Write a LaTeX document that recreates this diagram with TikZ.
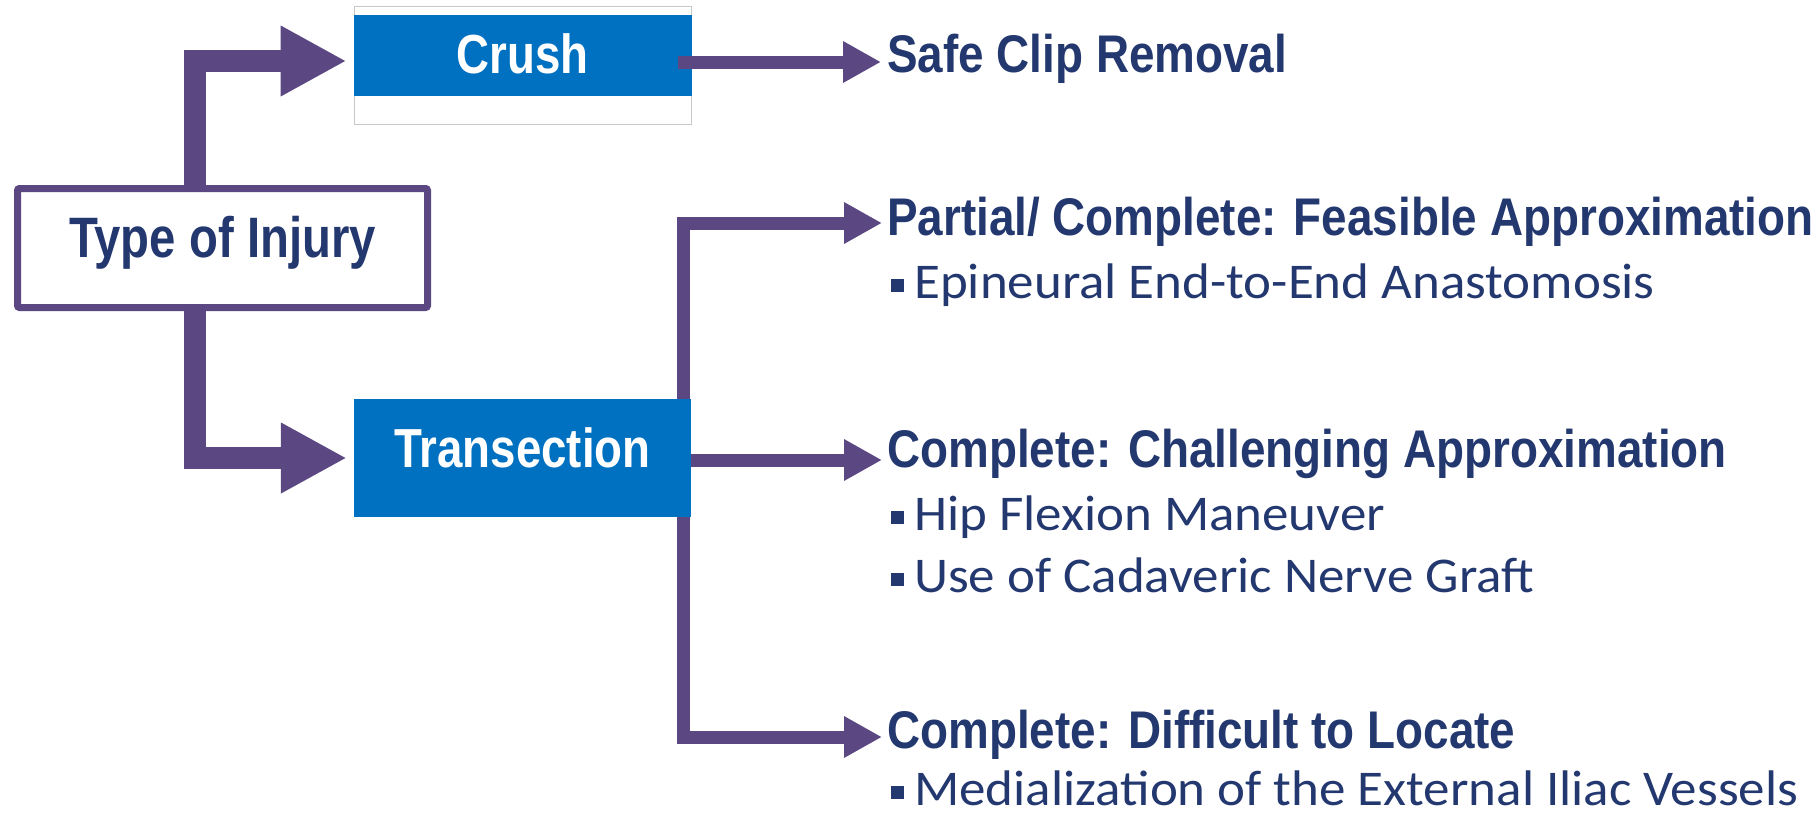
\documentclass[tikz,border=0pt]{standalone}
\usepackage{fontspec}
\setmainfont{Carlito}
\newfontfamily\headfont[FakeStretch=0.865]{Liberation Sans}
\newfontfamily\boxfont[FakeStretch=0.83]{Liberation Sans}
\newfontfamily\detailfont[FakeStretch=1.06]{Carlito}
\usetikzlibrary{arrows.meta}
\definecolor{navy}{RGB}{36,56,112}
\definecolor{arrowpurple}{RGB}{91,71,130}
\definecolor{boxblue}{RGB}{0,112,192}
\definecolor{framegray}{RGB}{200,200,200}
\newcommand{\bulletsq}{\textcolor{navy}{\rule[6pt]{13pt}{13pt}}\hspace{10pt}}
\tikzset{
  thickarrow/.style={arrowpurple, line width=22pt, -{Triangle[length=66pt,width=66pt]}},
  thinarrow/.style={arrowpurple, line width=13pt, -{Triangle[length=38pt,width=39pt]}},
  heading/.style={anchor=base west, inner sep=0pt, text=navy,
    font=\headfont\bfseries\fontsize{53}{60}\selectfont},
  detail/.style={anchor=base west, inner sep=0pt, text=navy,
    font=\detailfont\fontsize{50}{58}\selectfont},
  boxlabel/.style={anchor=base, inner sep=0pt, text=white,
    font=\boxfont\bfseries\fontsize{55}{62}\selectfont}
}

\begin{document}
\begin{tikzpicture}[x=1pt,y=-1pt]
  \useasboundingbox (0,0) rectangle (1816,817);
  % boxes
  \node[draw=arrowpurple, line width=7pt, rounded corners=2pt, fill=white,
    minimum width=410pt, minimum height=119pt, inner sep=0pt] (injury) at (222.5,248) {};
  \node[draw=framegray, line width=1pt, fill=white,
    minimum width=337pt, minimum height=118pt, inner sep=0pt] (crush) at (522.5,65) {};
  \fill[boxblue] ([yshift=-9pt]crush.north west) rectangle ([yshift=29pt]crush.south east);
  \node[fill=boxblue, minimum width=337pt, minimum height=118pt, inner sep=0pt]
    (transection) at (522.5,458) {};
  \node[boxlabel] (crushlabel) at ([yshift=-68pt]crush.north) {Crush};
  \node[boxlabel] (transectionlabel) at ([yshift=-69pt]transection.north) {Transection};
  \node[boxlabel, text=navy, font=\boxfont\bfseries\fontsize{57}{64}\selectfont]
    (injurylabel) at ([yshift=-72pt]injury.north) {Type of Injury};
  % outcomes
  \node[heading] (clip) at (887,72) {Safe Clip Removal};
  \node[heading] (partial) at (887,235) {Partial/ Complete: Feasible Approximation};
  \node[detail] (epineural) at (891,298) {\bulletsq Epineural End-to-End Anastomosis};
  \node[heading] (challenging) at (887,467) {Complete: Challenging Approximation};
  \node[detail] (hip) at (891,530) {\bulletsq Hip Flexion Maneuver};
  \node[detail] (cadaveric) at (891,592) {\bulletsq Use of Cadaveric Nerve Graft};
  \node[heading] (difficult) at (887,748) {Complete: Difficult to Locate};
  \node[detail] (medialization) at (891,805) {\bulletsq Medialization of the External Iliac Vessels};
  % arrows
  \draw[thickarrow] ([xshift=-28pt]injury.north) |- ([xshift=-7pt,yshift=4pt]crush.west);
  \draw[thickarrow] ([xshift=-28pt]injury.south) |- ([xshift=-7pt]transection.west);
  \draw[thinarrow] ([xshift=-14pt,yshift=3pt]crush.east) -- ([xshift=-6pt,yshift=10pt]clip.base west);
  \draw[thinarrow] ([xshift=-7.5pt]transection.north east) |- ([xshift=-5pt,yshift=12pt]partial.base west);
  \draw[thinarrow] ([yshift=-2pt]transection.east) -- ([xshift=-5pt,yshift=7pt]challenging.base west);
  \draw[thinarrow] ([xshift=-7.5pt]transection.south east) |- ([xshift=-5pt,yshift=11pt]difficult.base west);
\end{tikzpicture}
\end{document}
